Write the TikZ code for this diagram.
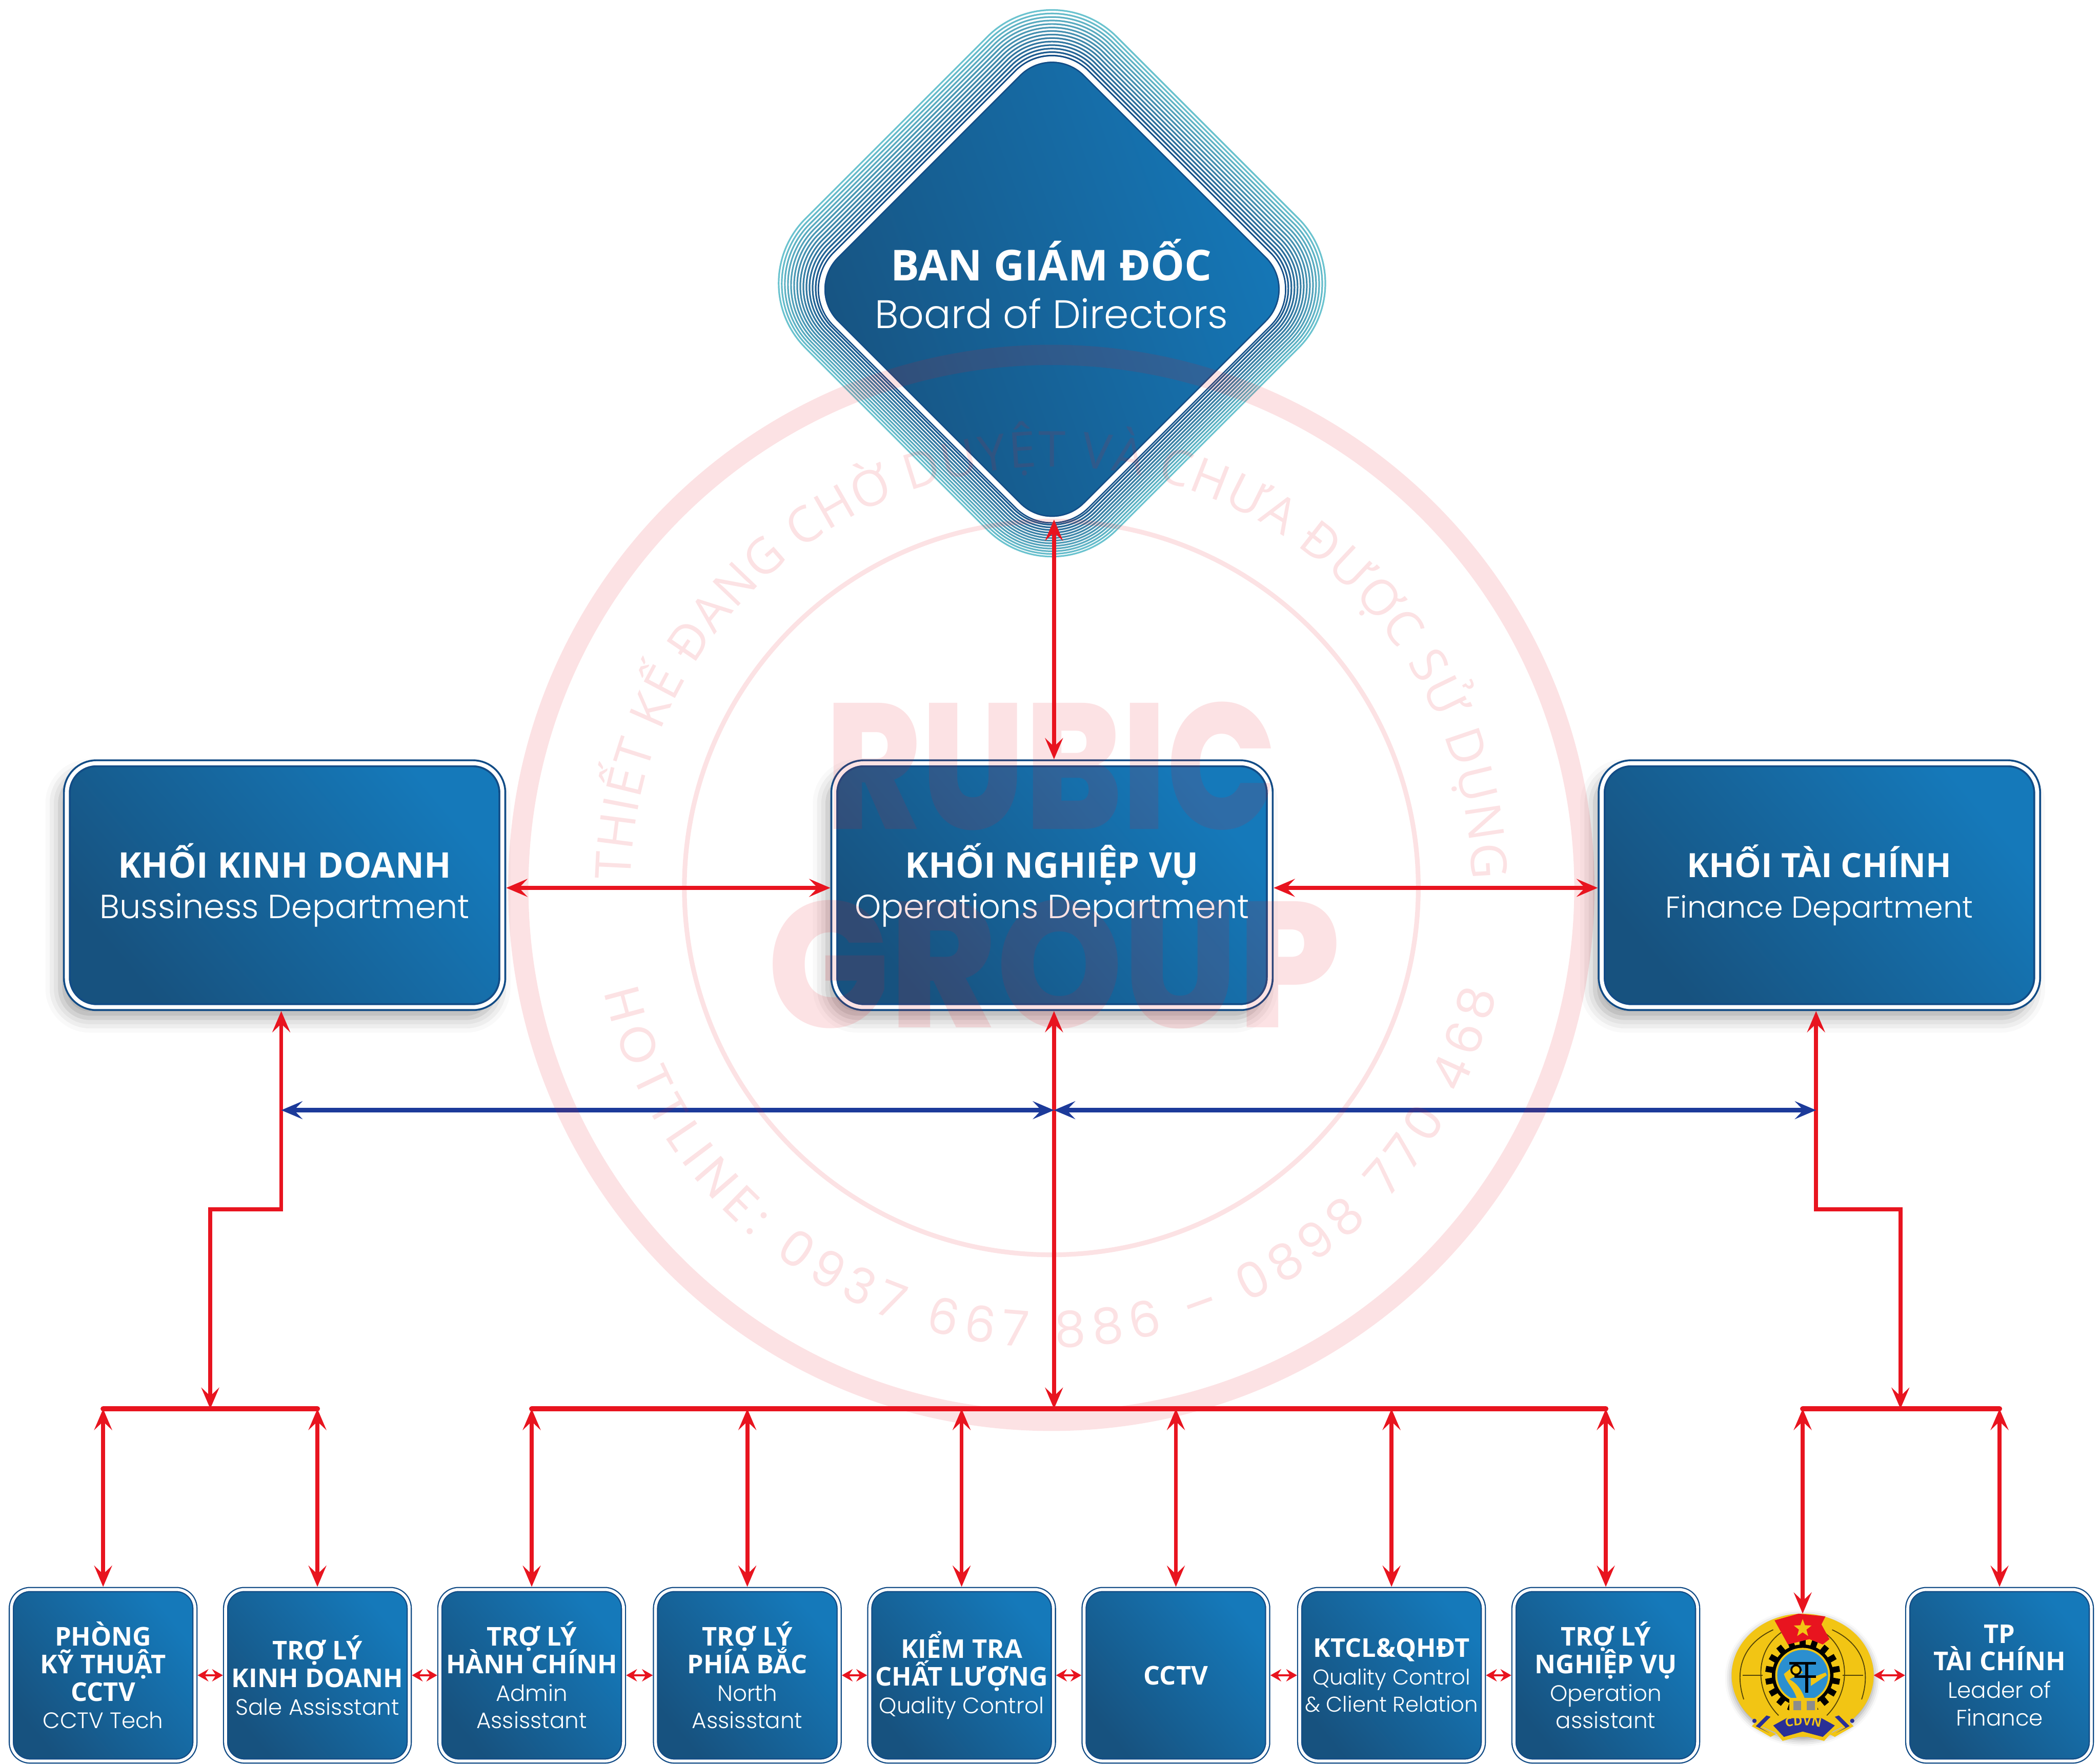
\documentclass[tikz,border=0pt]{standalone}
\usepackage{fontspec}
\setmainfont{Open Sans}
\newfontfamily\headfont{Open Sans}
\newfontfamily\subfont{Poppins Light}
\newfontfamily\stampfont{Poppins}
\newfontfamily\stampheavy{Poppins ExtraBold}
\usetikzlibrary{arrows.meta,shapes.geometric,shadows.blur,decorations.text}
\definecolor{boxdark}{HTML}{17527F}
\definecolor{boxlight}{HTML}{1579BA}
\definecolor{linkred}{HTML}{E8141F}
\definecolor{linkblue}{HTML}{1C3A9A}
\definecolor{ringcyan}{HTML}{74CFD6}
\definecolor{ringnavy}{HTML}{124C86}
\definecolor{logoyellow}{HTML}{F2C514}
\definecolor{logoblue}{HTML}{2B8FD0}
\definecolor{logonavy}{HTML}{2A2F96}
\newcommand{\boardtitle}{\lineskiplimit=-20pt\headfont\bfseries\fontsize{9.05}{10.2}\selectfont}
\newcommand{\boardsub}{\subfont\mdseries\fontsize{8.45}{10.2}\selectfont}
\newcommand{\bigtitle}{\lineskiplimit=-20pt\headfont\bfseries\fontsize{7.5}{8.5}\selectfont}
\newcommand{\bigsub}{\subfont\mdseries\fontsize{7.1}{8.5}\selectfont}
\newcommand{\financetitle}{\lineskiplimit=-20pt\headfont\bfseries\fontsize{7.1}{8.5}\selectfont}
\newcommand{\financesub}{\subfont\mdseries\fontsize{6.4}{8.5}\selectfont}
\newcommand{\smalltitle}{\lineskiplimit=-20pt\headfont\bfseries\fontsize{5.5}{5.85}\selectfont}
\newcommand{\smallsub}{\subfont\mdseries\fontsize{4.75}{5.85}\selectfont}
\newcommand{\clientsub}{\subfont\mdseries\fontsize{4.55}{5.85}\selectfont}
\tikzset{
  basebox/.style={shape=rectangle,text=white,align=center,inner sep=0pt,draw=ringnavy,double=white,
    top color=boxlight,bottom color=boxdark,shading angle=-50},
  deptbox/.style={basebox,font=\bigtitle,minimum width=3.25cm,minimum height=1.82cm,rounded corners=0.22cm,
    line width=0.4pt,double distance=0.85pt,outer sep=0.029cm,
    blur shadow={shadow xshift=-0.05cm,shadow yshift=-0.08cm,shadow blur radius=0.11cm,shadow opacity=35}},
  staffbox/.style={basebox,font=\smalltitle,minimum width=1.37cm,minimum height=1.28cm,rounded corners=0.14cm,
    line width=0.25pt,double distance=0.62pt,outer sep=0.02cm},
  ringline/.style={draw,shape=diamond,aspect=1,inner sep=0pt,outer sep=0pt,line width=0.35pt},
  link/.style={<->,linkred,line width=0.85pt},
  buslink/.style={linkred,line width=1.1pt,line cap=round},
  bluelink/.style={<->,linkblue,line width=0.9pt},
  sidelink/.style={<->,linkred,line width=0.4pt,>={Stealth[length=2.3pt,width=2.6pt,inset=0.8pt]}},
}
\begin{document}
\begin{tikzpicture}[x=0.01cm,y=-0.01cm,>={Stealth[length=4.5pt,width=3.8pt,inset=1.8pt]}]
\useasboundingbox (0,0) rectangle (1568,1317);
% lines round the board
\foreach \i in {1,...,14} {
  \pgfmathsetmacro{\d}{\i*0.023}
  \pgfmathsetmacro{\s}{2*(1.32+\d)*1.4142}
  \pgfmathsetmacro{\r}{0.36+\d}
  \pgfmathsetmacro{\m}{100-\i*6.5}
  \node [ringline,draw=ringnavy!\m!ringcyan,minimum width=\s cm,minimum height=\s cm,rounded corners=\r cm] at (785.5,216-\i*0.32) {};
}
\node (board) [basebox,shape=diamond,aspect=1,minimum width=3.74cm,minimum height=3.74cm,rounded corners=0.36cm,
  line width=0.3pt,double distance=1.1pt,draw=ringnavy,shading angle=-70] at (785.5,216) {};
\node (boardlabel) [text=white,align=center,inner sep=0pt,font=\boardtitle] at (785,212) {BAN GIÁM ĐỐC\\ \boardsub Board of Directors};
% departments
\node (sales) [deptbox] at (212.5,661) {KHỐI KINH DOANH\\ \bigsub Bussiness Department};
\node (ops) [deptbox] at (785.5,661) {KHỐI NGHIỆP VỤ\\ \bigsub Operations Department};
\node (finance) [deptbox,font=\financetitle] at (1358.5,661) {KHỐI TÀI CHÍNH\\ \financesub Finance Department};
% bottom row
\node (tech) [staffbox] at (77,1251) {PHÒNG\\KỸ THUẬT\\CCTV\\ \smallsub CCTV Tech};
\node (saleshelp) [staffbox] at (237,1251) {TRỢ LÝ\\KINH DOANH\\ \smallsub Sale Assisstant};
\node (admin) [staffbox] at (397,1251) {TRỢ LÝ\\HÀNH CHÍNH\\ \smallsub Admin\\ \smallsub Assisstant};
\node (north) [staffbox] at (558,1251) {TRỢ LÝ\\PHÍA BẮC\\ \smallsub North\\ \smallsub Assisstant};
\node (quality) [staffbox] at (718,1251) {KIỂM TRA\\CHẤT LƯỢNG\\ \smallsub Quality Control};
\node (cctv) [staffbox] at (878,1251) {CCTV};
\node (client) [staffbox] at (1039,1251) {KTCL\&QHĐT\\ \clientsub Quality Control\\ \clientsub \& Client Relation};
\node (opshelp) [staffbox] at (1199,1251) {TRỢ LÝ\\NGHIỆP VỤ\\ \smallsub Operation\\ \smallsub assistant};
\node (leader) [staffbox] at (1493,1251) {TP\\TÀI CHÍNH\\ \smallsub Leader of\\ \smallsub Finance};
% union badge
\node (union) [shape=ellipse,fill=logoyellow,inner sep=0pt,minimum width=1.06cm,minimum height=0.92cm,outer sep=0pt,
  blur shadow={shadow xshift=0cm,shadow yshift=-0.02cm,shadow blur radius=0.05cm,shadow opacity=40}] at (1346,1251) {};
\begin{scope}[shift={(union.center)}]
\draw [black!65!logoyellow,line width=0.2pt] (-44,18) .. controls (-50,0) and (-48,-22) .. (-22,-34);
\draw [black!65!logoyellow,line width=0.2pt] (44,18) .. controls (50,0) and (48,-22) .. (22,-34);
\draw [black!65!logoyellow,line width=0.2pt] (-18,30) .. controls (-36,12) and (-36,-18) .. (-16,-32);
\draw [black!65!logoyellow,line width=0.2pt] (18,30) .. controls (36,12) and (36,-18) .. (16,-32);
\draw [black!65!logoyellow,line width=0.2pt] (-45,0) -- (-30,0) (30,0) -- (45,0);
\foreach \a in {0,20,...,340} {
  \fill [black,rotate=\a] (-2.2,-28) rectangle (2.2,-20);
}
\fill [black] (0,0) circle (23);
\fill [logoyellow] (0,0) circle (20.5);
\fill [logoblue] (0,0) circle (19);
\fill [logoyellow] (-14,-1) -- (-4,-9) -- (0,-2) -- (-10,3) .. controls (-4,6) and (0,12) .. (2,19) -- (-4,19) .. controls (-6,10) and (-12,6) .. (-14,-1);
\fill [logoyellow] (6,8) -- (18,0) -- (17,-2) -- (6,2) -- cycle;
\draw [black,line width=0.6pt] (-10,-9) -- (10,-9) (3,-9) -- (3,13);
\draw [black,line width=0.5pt] (-6,1) -- (10,1);
\draw [black,line width=0.4pt] (-5,-4) circle (3.5);
\fill [logoyellow] (-10,17) rectangle (11,28);
\fill [black!45] (-7,19) rectangle (-1,26);
\fill [black!45] (3,19) rectangle (9,26);
\fill [linkred] (-21,-41) -- (-3,-46) -- (17,-44) -- (14,-38) -- (20,-27) -- (15,-23) -- (5,-27) -- (-11,-23) -- cycle;
\node (unionstar) [shape=star,star points=5,star point ratio=2.4,fill=logoyellow,inner sep=0pt,minimum size=0.14cm] at (0,-35) {};
\fill [logoyellow] (-24,38) -- (-12,30) -- (14,30) -- (26,38) -- (16,49) -- (0,45) -- (-15,49) -- cycle;
\fill [logonavy] (-22,37.5) -- (-12,32) -- (14,32) -- (24,37.5) -- (15,46) -- (0,42) -- (-14,46) -- cycle;
\path [postaction={decorate},decoration={text along path,text align=center,text color=logoyellow,
  text={|\headfont\bfseries\fontsize{2.6}{3}\selectfont|CDVN}}] (-17,41) .. controls (-7,36) and (7,36) .. (18,41);
\fill [logoyellow] (-28,28) -- (-22,31) -- (-30,39) -- (-20,44) -- (-24,46) -- (-38,38) -- cycle;
\fill [logonavy] (-27,30) -- (-24,31) -- (-32,39) -- (-25,43) -- (-35,38) -- cycle;
\fill [logoyellow] (28,28) -- (22,31) -- (30,39) -- (20,44) -- (24,46) -- (38,38) -- cycle;
\fill [logonavy] (27,30) -- (24,31) -- (32,39) -- (25,43) -- (35,38) -- cycle;
\fill [logonavy] (-36,34) circle (1.6);
\fill [logonavy] (37,34) circle (1.6);
\end{scope}
% free ends of the links
\coordinate (salesstem) at (210,755);
\coordinate (salesdrop) at (157,903);
\coordinate (salesbus) at (157,1052);
\coordinate (opsstem) at (787,755);
\coordinate (opsbus) at (787,1052);
\coordinate (financestem) at (1356,755);
\coordinate (financedrop) at (1419,903);
\coordinate (financebus) at (1419,1052);
\coordinate (boardtip) at (787,388);
\coordinate (opstop) at (787,567);
\coordinate (saleswire) at (210,829);
\coordinate (opswire) at (787,829);
\coordinate (financewire) at (1356,829);
\coordinate (unionbus) at (1346,1052);
\draw [link] (boardtip) -- (opstop);
\draw [link] ([yshift=-0.02cm]sales.east) -- ([yshift=-0.02cm]ops.west);
\draw [link] ([yshift=-0.02cm]ops.east) -- ([yshift=-0.02cm]finance.west);
\draw [link] (salesstem) |- (salesdrop) -- (salesbus);
\draw [link] (opsstem) -- (opsbus);
\draw [link] (financestem) |- (financedrop) -- (financebus);
\draw [bluelink] (saleswire) -- (opswire);
\draw [bluelink] (opswire) -- (financewire);
\draw [buslink] (tech.north |- opsbus) -- (saleshelp.north |- opsbus);
\draw [buslink] (admin.north |- opsbus) -- (opshelp.north |- opsbus);
\draw [buslink] (unionbus) -- (leader.north |- opsbus);
\foreach \n in {tech,saleshelp,admin,north,quality,cctv,client,opshelp,leader} {
  \draw [link] (\n.north |- opsbus) -- (\n.north);
}
\draw [link] (unionbus) -- (union.north);
\draw [sidelink] (tech.east) -- (saleshelp.west);
\draw [sidelink] (saleshelp.east) -- (admin.west);
\draw [sidelink] (admin.east) -- (north.west);
\draw [sidelink] (north.east) -- (quality.west);
\draw [sidelink] (quality.east) -- (cctv.west);
\draw [sidelink] (cctv.east) -- (client.west);
\draw [sidelink] (client.east) -- (opshelp.west);
\draw [sidelink] (union.east) -- (leader.west);
% stamp over everything
\begin{scope}[opacity=0.12]
\draw [linkred,line width=4.3pt] (785,663) circle (398);
\draw [linkred,line width=1pt] (785,663) circle (274);
\node (rubic) [text=linkred,xscale=0.81,transform shape,font=\stampheavy\fontsize{38}{38}\selectfont] at (785,572) {RUBIC};
\node (group) [text=linkred,xscale=0.9,transform shape,font=\stampheavy\fontsize{38}{38}\selectfont] at (787,720) {GROUP};
\path [postaction={decorate},decoration={text along path,text align=fit to path,text color=linkred,
  text={|\headfont\fontsize{10.5}{12}\selectfont|THIẾT KẾ ĐANG CHỜ DUYỆT VÀ CHƯA ĐƯỢC SỬ DỤNG}}]
  (471,657) arc (181:359:314);
\path [postaction={decorate},decoration={text along path,text align=fit to path,text color=linkred,
  text={|\stampfont\fontsize{10.5}{12}\selectfont|HOTTLINE: 0937 667 886 – 0898 770 468}}]
  (451,741) arc (167:13:342);
\end{scope}
\end{tikzpicture}
\end{document}
